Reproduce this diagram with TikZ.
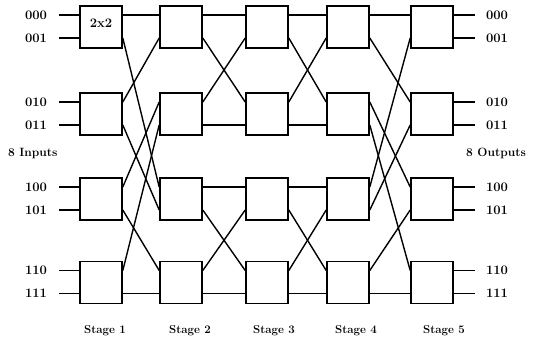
\documentclass[tikz,border=0pt]{standalone}
\usetikzlibrary{calc}
\begin{document}
\begin{tikzpicture}[x=1pt,y=-1pt,
  sw/.style={draw,line width=1.6pt,minimum width=42pt,minimum height=42pt,inner sep=0pt},
  wire/.style={line width=1.4pt},
  lbl/.style={font=\fontsize{13}{15}\selectfont\bfseries,inner sep=0pt},
  side/.style={font=\fontsize{12}{14}\selectfont\bfseries,inner sep=0pt},
  stg/.style={font=\fontsize{11.5}{13}\selectfont\bfseries,inner sep=0pt}]
\useasboundingbox (0,0) rectangle (536,344);
% switches
\foreach \s/\x in {1/101,2/181,3/267,4/348,5/432}{
  \foreach \r/\y in {1/27,2/114,3/199,4/282.5}{
    \node[sw] (s\s\r) at (\x,\y) {};
    \coordinate (s\s\r-it) at ([yshift=12pt]s\s\r.west);
    \coordinate (s\s\r-ib) at ([yshift=-11pt]s\s\r.west);
    \coordinate (s\s\r-ot) at ([yshift=12pt]s\s\r.east);
    \coordinate (s\s\r-ob) at ([yshift=-11pt]s\s\r.east);
  }
}
\node[lbl] (k) at ([yshift=4pt]s11.center) {2x2};
% inputs / outputs
\foreach \r/\a/\b in {1/000/001,2/010/011,3/100/101,4/110/111}{
  \coordinate (in\r t) at ([xshift=-20pt]s1\r-it);
  \coordinate (in\r b) at ([xshift=-20pt]s1\r-ib);
  \coordinate (out\r t) at ([xshift=21pt]s5\r-ot);
  \coordinate (out\r b) at ([xshift=21pt]s5\r-ob);
  \draw[wire] (in\r t) -- (s1\r-it);
  \draw[wire] (in\r b) -- (s1\r-ib);
  \draw[wire] (s5\r-ot) -- (out\r t);
  \draw[wire] (s5\r-ob) -- (out\r b);
  \node[lbl,anchor=east] (li\r t) at ([xshift=-12pt]in\r t) {\a};
  \node[lbl,anchor=east] (li\r b) at ([xshift=-12pt]in\r b) {\b};
  \node[lbl,anchor=west] (lo\r t) at ([xshift=11pt]out\r t) {\a};
  \node[lbl,anchor=west] (lo\r b) at ([xshift=11pt]out\r b) {\b};
}
% stage 1 -> 2
\foreach \a/\p/\b/\q in {1/t/1/t,1/b/3/t,2/t/1/b,2/b/3/b,3/t/2/t,3/b/4/t,4/t/2/b,4/b/4/b}
  \draw[wire] (s1\a-o\p) -- (s2\b-i\q);
% stage 2 -> 3 and 3 -> 4
\foreach \s/\n in {2/3,3/4}
  \foreach \a/\p/\b/\q in {1/t/1/t,1/b/2/t,2/t/1/b,2/b/2/b,3/t/3/t,3/b/4/t,4/t/3/b,4/b/4/b}
    \draw[wire] (s\s\a-o\p) -- (s\n\b-i\q);
% stage 4 -> 5
\foreach \a/\p/\b/\q in {1/t/1/t,3/t/1/b,1/b/2/t,3/b/2/b,2/t/3/t,4/t/3/b,2/b/4/t,4/b/4/b}
  \draw[wire] (s4\a-o\p) -- (s5\b-i\q);
% side labels
\node[side,anchor=west] (ins) at (8,154) {8 Inputs};
\node[side,anchor=west] (outs) at (466,153) {8 Outputs};
% stage labels
\foreach \s/\x in {1/105,2/190,3/274,4/356,5/444}
  \node[stg] (st\s) at (\x,331) {Stage \s};
\end{tikzpicture}
\end{document}
